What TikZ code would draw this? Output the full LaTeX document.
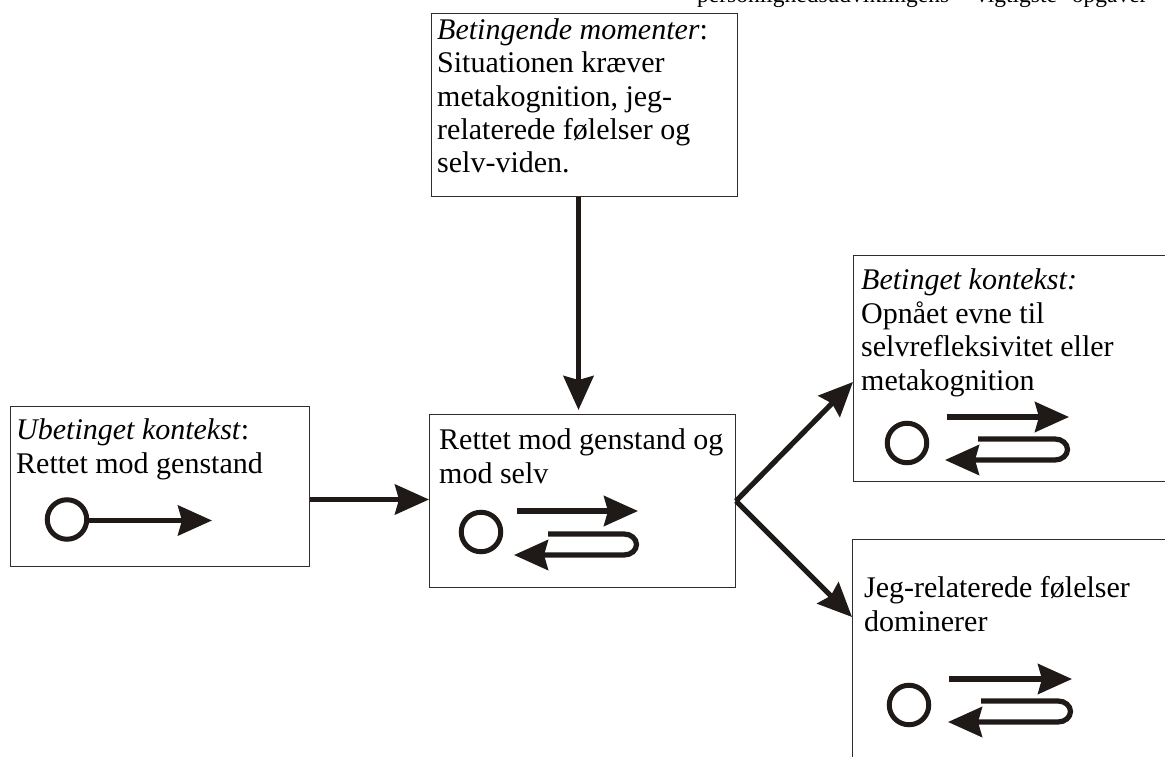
\documentclass[tikz,border=0pt]{standalone}
\usepackage{fontspec}
\setmainfont{Liberation Serif}
\usetikzlibrary{arrows.meta,calc}
\definecolor{ink}{HTML}{1F1A17}
\definecolor{edge}{HTML}{2E2E2E}
\tikzset{
  box/.style={draw=edge,line width=1pt,rectangle,inner sep=0pt,anchor=north west},
  lbl/.style={inner sep=0pt,anchor=base west,align=left,font=\fontsize{30pt}{33.4pt}\selectfont,text=black},
  arrowline/.style={draw=ink,line width=5.2pt,-{Stealth[length=34pt,width=30pt,inset=4pt,color=ink]}},
  ring/.style={circle,draw=ink,line width=5pt,minimum size=39.5pt,inner sep=0pt},
  pics/loopicon/.style n args={4}{code={
    % origin is the start of the upper arrow; args: arrow end x, loop start x, loop y, tip x
    \draw[arrowline] (0,0) -- (#1,0);
    \draw[arrowline] (#2,#3) -- (#1-14,#3)
       .. controls (#1-7,#3) and (#1-1.5,#3+4.7) .. (#1-1.5,#3+10.5)
       .. controls (#1-1.5,#3+16.3) and (#1-7,#3+21) .. (#1-14,#3+21)
       -- (#4,#3+21);
  }}
}
\begin{document}
\begin{tikzpicture}[x=1pt,y=-1pt]
\useasboundingbox (0,0) rectangle (1165,757);
\clip (0,0) rectangle (1165,757);

\node[lbl,font=\fontsize{23.5pt}{26pt}\selectfont] (head) at (697,2.5)
  {personlighedsudviklingens\hspace{21pt} vigtigste\hspace{9pt} opgaver};

\node[box,minimum width=306pt,minimum height=183pt] (top) at (431,13) {};
\node[box,minimum width=299pt,minimum height=160pt] (left) at (10,406) {};
\node[box,minimum width=306pt,minimum height=173pt] (center) at (429,414) {};
\node[box,minimum width=330pt,minimum height=226pt] (rone) at (853,255) {};
\node[box,minimum width=330pt,minimum height=240pt] (rtwo) at (852,539) {};

\node[lbl] (toptext) at (437,173) {\textit{Betingende momenter}:\\Situationen kræver\\metakognition, jeg-\\relaterede følelser og\\selv-viden.};
\node[lbl] (lefttext) at (16,473) {\textit{Ubetinget kontekst}:\\Rettet mod genstand};
\node[lbl] (centertext) at (439,483) {Rettet mod genstand og\\mod selv};
\node[lbl] (ronetext) at (861,390) {\textit{Betinget kontekst:}\\Opnået evne til\\selvrefleksivitet eller\\metakognition};
\node[lbl] (rtwotext) at (864,631) {Jeg-relaterede følelser\\dominerer};

\draw[arrowline] ([xshift=-6pt]top.south) -- ([xshift=-4pt,yshift=4pt]center.north);
\draw[arrowline] ([yshift=1.5pt]center.west -| left.east) -- ([yshift=1.5pt]center.west);
\draw[arrowline] (center.east) -- ([yshift=-127pt]rone.north west);
\draw[arrowline] (center.east) -- ([yshift=-78pt]rtwo.north west);

% left icon
\node[ring] (lcirc) at (67,519.5) {};
\coordinate (ltip) at (212,520.5);
\draw[arrowline] (lcirc.east |- ltip) -- (ltip);

% centre icon
\node[ring] (ccirc) at (481,532) {};
\pic at (517,511) {loopicon={121}{31}{23}{-3}};

% right upper icon
\node[ring] (rcirc) at (907,443) {};
\pic at (947,417) {loopicon={122}{31}{22}{-2}};

% right lower icon
\node[ring] (scirc) at (909,705) {};
\pic at (949,679) {loopicon={123}{32}{22}{-1}};
\end{tikzpicture}
\end{document}
